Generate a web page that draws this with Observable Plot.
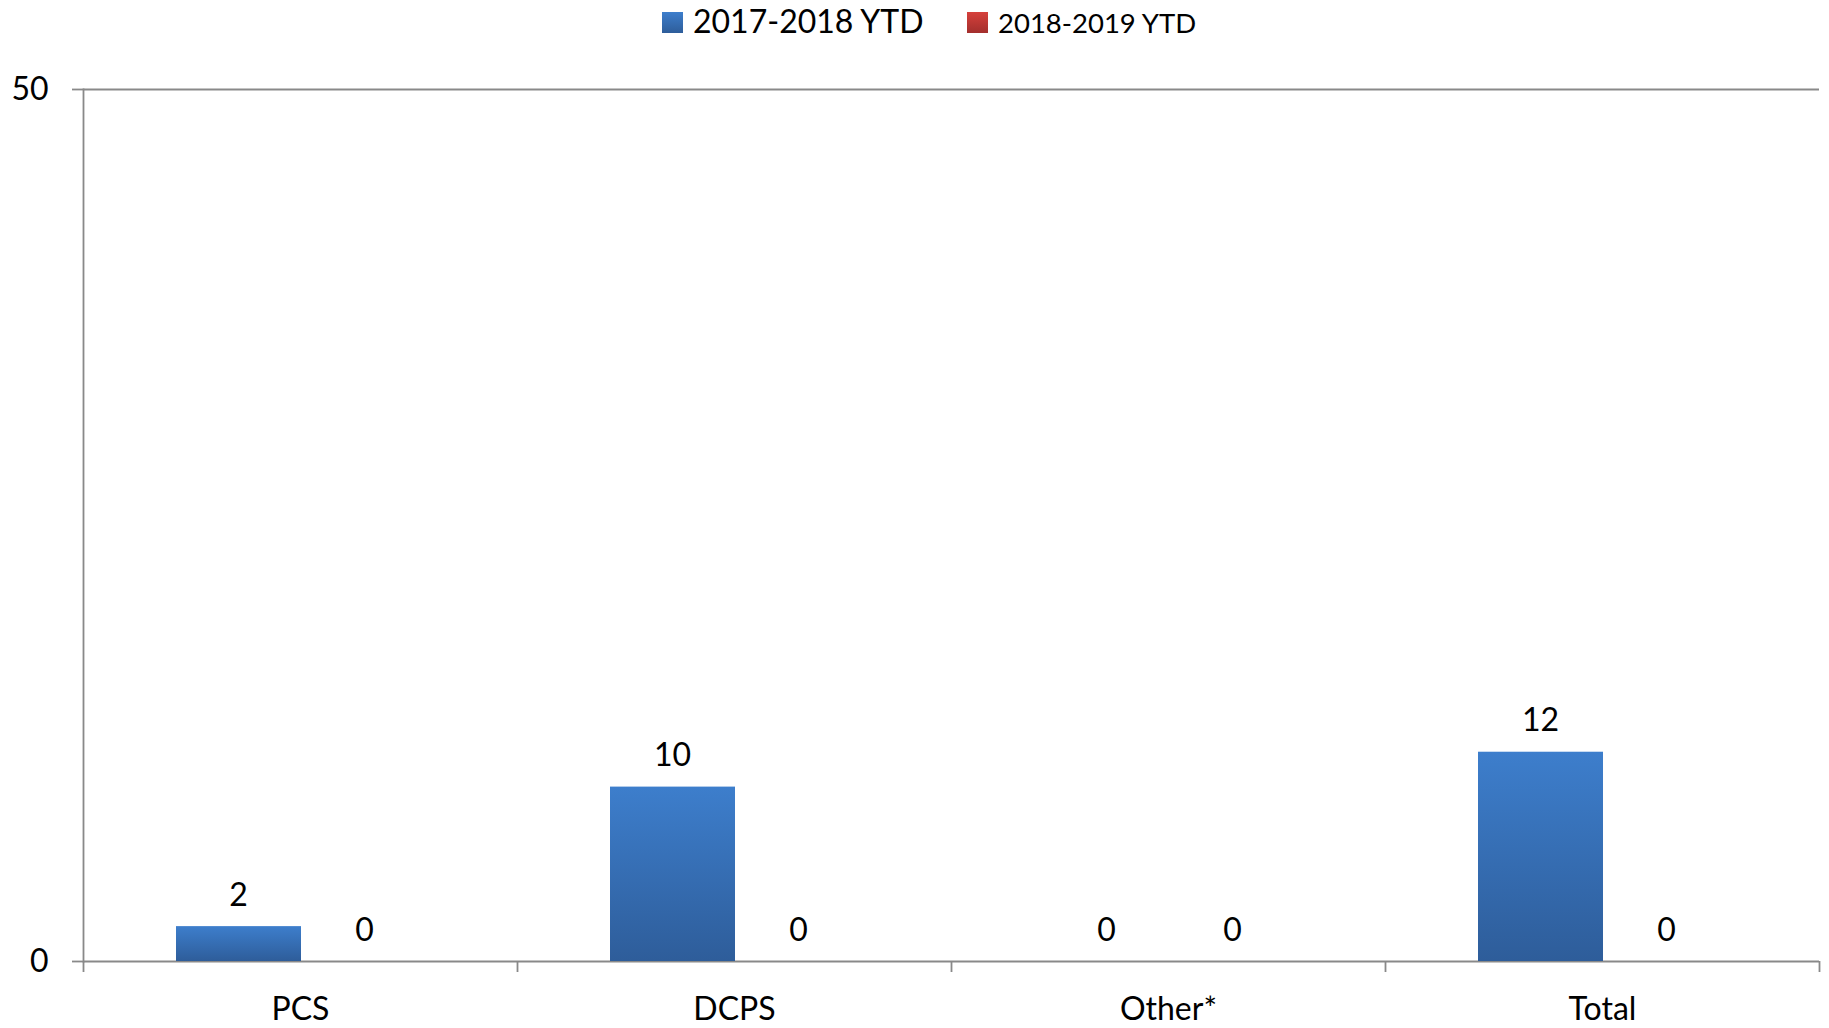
<!DOCTYPE html>
<html>
<head>
<meta charset="utf-8">
<script src="https://cdn.jsdelivr.net/npm/d3@7"></script>
<script src="https://cdn.jsdelivr.net/npm/@observablehq/plot@0.6"></script>
<style>
  html, body { margin: 0; padding: 0; background: #fff; }
  body { width: 1829px; height: 1028px; overflow: hidden; font-family: Lato, "Open Sans", sans-serif; }
  #legend { position: relative; height: 44px; width: 1829px; }
  .sw { position: absolute; top: 12px; width: 21px; height: 21px; }
  .lt { position: absolute; color: #000; white-space: nowrap; line-height: 1; }
</style>
</head>
<body>
<div id="legend"></div>
<div id="chart"></div>
<script>
const categories = ["PCS", "DCPS", "Other*", "Total"];
const seriesNames = ["2017-2018 YTD", "2018-2019 YTD"];
const values2017 = [2, 10, 0, 12];
const values2018 = [0, 0, 0, 0];
const yTicks = [0, 50];

const data = categories.map((c, i) => ({category: c, a: values2017[i], b: values2018[i]}));

// legend
const legend = document.getElementById("legend");
const legendItems = [
  {name: seriesNames[0], grad: "linear-gradient(#3D7ECC, #2E5D9A)", swLeft: 662, txtLeft: 693, size: 32, top: 4.6},
  {name: seriesNames[1], grad: "linear-gradient(#D6403B, #A32F2D)", swLeft: 967, txtLeft: 998, size: 27.5, top: 8.6}
];
legendItems.forEach(it => {
  const sw = document.createElement("div");
  sw.className = "sw";
  sw.style.left = it.swLeft + "px";
  sw.style.background = it.grad;
  legend.appendChild(sw);
  const t = document.createElement("div");
  t.className = "lt";
  t.style.left = it.txtLeft + "px";
  t.style.top = it.top + "px";
  t.style.fontSize = it.size + "px";
  t.textContent = it.name;
  legend.appendChild(t);
});

const axisColor = "#898989";
const W = 1829, H = 984;
const mL = 83, mR = 10;
const band = (W - mL - mR) / categories.length;

const chart = Plot.plot({
  width: W,
  height: H,
  marginLeft: mL,
  marginRight: mR,
  marginTop: 45,
  marginBottom: 67,
  style: {fontFamily: "Lato, 'Open Sans', sans-serif", fontSize: "32px", color: "#000", background: "#fff"},
  x: {domain: categories, padding: 0, label: null},
  y: {domain: [0, 50], label: null},
  marks: [
    Plot.ruleY(yTicks, {stroke: axisColor, strokeWidth: 1.8}),
    Plot.frame({anchor: "left", stroke: axisColor, strokeWidth: 1.8}),
    Plot.axisY({ticks: yTicks, tickSize: 11, tickPadding: 24, stroke: axisColor, strokeWidth: 1.8, fontSize: 32, label: null, tickFormat: d => String(d)}),
    Plot.axisX({tickSize: 11, dx: -band / 2, stroke: axisColor, strokeWidth: 1.8, tickFormat: () => "", label: null}),
    Plot.axisX({ticks: [categories[categories.length - 1]], tickSize: 11, dx: band / 2, stroke: axisColor, strokeWidth: 1.8, tickFormat: () => "", label: null}),
    Plot.axisX({tickSize: 0, tickPadding: 36, fontSize: 32, label: null}),
    Plot.barY(data, {x: "category", y: "a", fill: "url(#gBlue)", insetLeft: 93, insetRight: 216,
      style: {filter: "drop-shadow(1px 2px 2px rgba(0,0,0,0.28))"}}),
    Plot.barY(data, {x: "category", y: "b", fill: "url(#gRed)", insetLeft: 218, insetRight: 91}),
    Plot.text(data, {x: "category", y: "a", text: d => String(d.a), dx: -62, dy: -21, lineAnchor: "bottom", fontSize: 32, fill: "#000"}),
    Plot.text(data, {x: "category", y: "b", text: d => String(d.b), dx: 64, dy: -21, lineAnchor: "bottom", fontSize: 32, fill: "#000"})
  ]
});

const defs = d3.select(chart).insert("defs", ":first-child");
[["gBlue", "#3D7ECC", "#2E5D9A"], ["gRed", "#D6403B", "#A32F2D"]].forEach(([id, c0, c1]) => {
  const g = defs.append("linearGradient").attr("id", id).attr("x1", 0).attr("y1", 0).attr("x2", 0).attr("y2", 1);
  g.append("stop").attr("offset", "0%").attr("stop-color", c0);
  g.append("stop").attr("offset", "100%").attr("stop-color", c1);
});

document.getElementById("chart").appendChild(chart);
</script>
</body>
</html>
